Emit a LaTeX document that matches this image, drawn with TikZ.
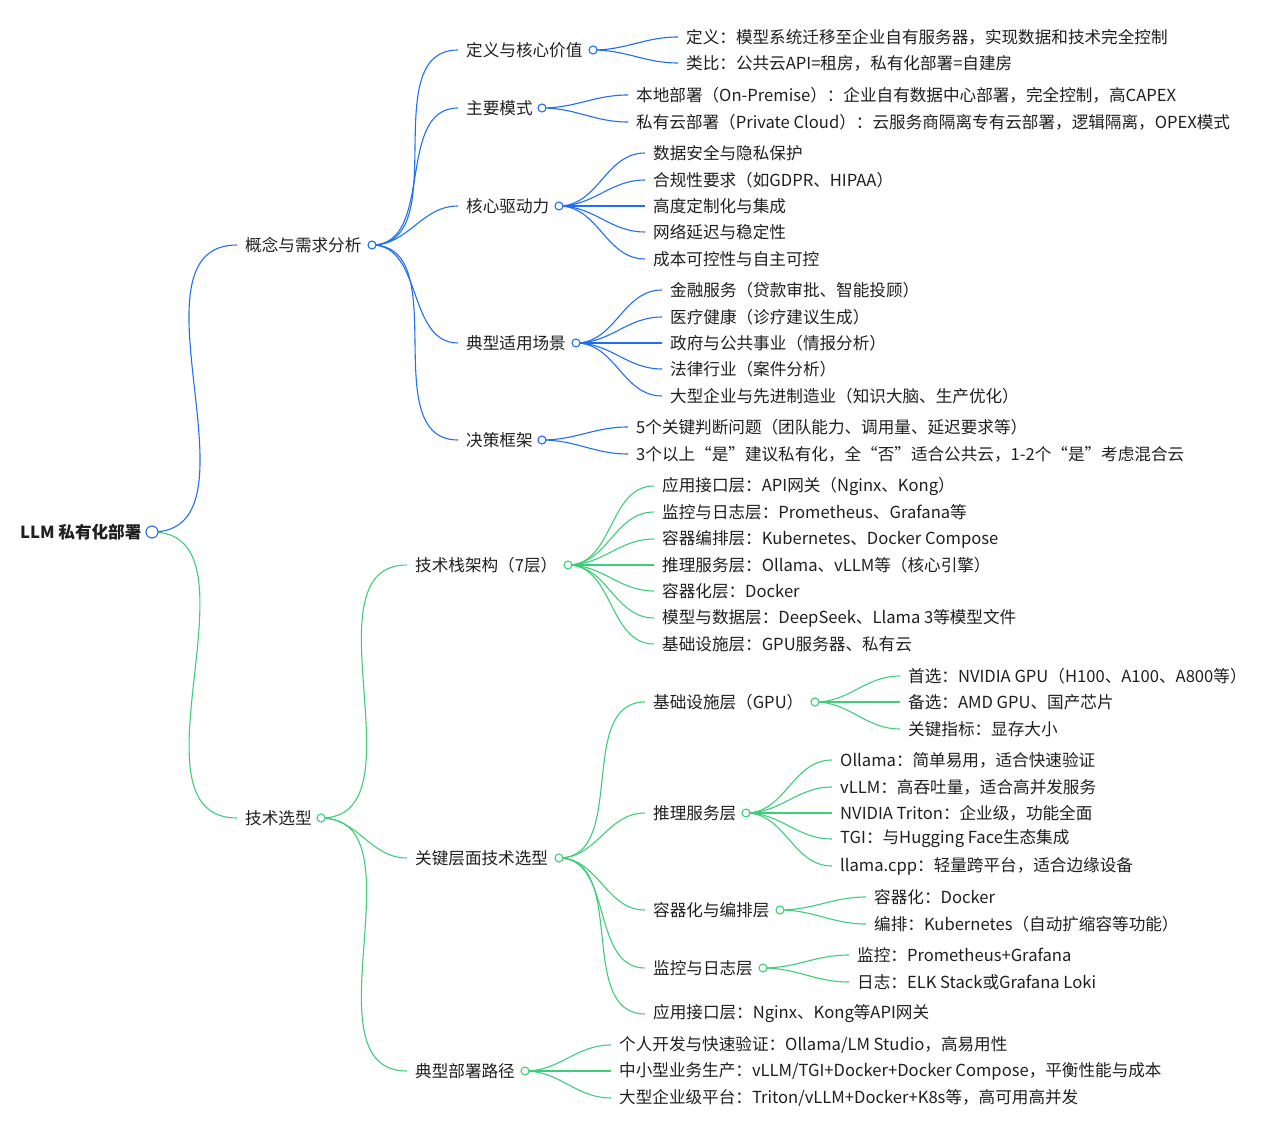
\documentclass[tikz,border=0pt]{standalone}
\usepackage{fontspec}
\setmainfont{Noto Sans CJK SC}
\definecolor{bl}{RGB}{32,110,245}
\definecolor{gr}{RGB}{62,206,122}
\tikzset{
 txt/.style={inner sep=0pt,anchor=west,font=\fontsize{16.6}{19}\selectfont,text=black!88},
 lb/.style={draw=bl,line width=1.1pt},
 lg/.style={draw=gr,line width=1.1pt},
 dotb/.style={circle,draw=bl,fill=white,line width=1.1pt,minimum size=8pt,inner sep=0pt},
 dotg/.style={circle,draw=gr,fill=white,line width=1.1pt,minimum size=8pt,inner sep=0pt},
}
\newcommand\kid[6]{%
 \node[txt] (#1) at (#2,-#3) {#4};
 \draw[#6] (#5) to[out=0,in=180] ([xshift=-8pt]#1.west);}
\begin{document}
\begin{tikzpicture}[x=1pt,y=1pt]
\useasboundingbox (0,0) rectangle (1275,-1137);
\coordinate (cR) at (152,-532);
\coordinate (cA) at (372,-245);
\coordinate (cB) at (321,-818);
\coordinate (cA1) at (593,-50);
\coordinate (cA2) at (542,-108);
\coordinate (cA3) at (559,-206);
\coordinate (cA4) at (576,-343);
\coordinate (cA5) at (542,-440);
\coordinate (cB1) at (568,-565);
\coordinate (cB2) at (559,-858);
\coordinate (cB3) at (525,-1071);
\coordinate (cC1) at (815,-702);
\coordinate (cC2) at (746,-813);
\coordinate (cC3) at (780,-910);
\coordinate (cC4) at (763,-968);

\node[txt,font=\fontsize{16.6}{19}\selectfont\bfseries] (root) at (20,-532) {LLM 私有化部署};
\kid{A}{245}{245}{概念与需求分析}{cR}{lb}
\kid{B}{245}{818}{技术选型}{cR}{lg}

\kid{A1}{466}{50}{定义与核心价值}{cA}{lb}
\kid{A2}{466}{108}{主要模式}{cA}{lb}
\kid{A3}{466}{206}{核心驱动力}{cA}{lb}
\kid{A4}{466}{343}{典型适用场景}{cA}{lb}
\kid{A5}{466}{440}{决策框架}{cA}{lb}

\kid{a11}{686}{37}{定义：模型系统迁移至企业自有服务器，实现数据和技术完全控制}{cA1}{lb}
\kid{a12}{686}{63}{类比：公共云API=租房，私有化部署=自建房}{cA1}{lb}
\kid{a21}{636}{95}{本地部署（On-Premise）：企业自有数据中心部署，完全控制，高CAPEX}{cA2}{lb}
\kid{a22}{636}{122}{私有云部署（Private Cloud）：云服务商隔离专有云部署，逻辑隔离，OPEX模式}{cA2}{lb}
\kid{a31}{653}{153}{数据安全与隐私保护}{cA3}{lb}
\kid{a32}{653}{180}{合规性要求（如GDPR、HIPAA）}{cA3}{lb}
\kid{a33}{653}{206}{高度定制化与集成}{cA3}{lb}
\kid{a34}{653}{232}{网络延迟与稳定性}{cA3}{lb}
\kid{a35}{653}{259}{成本可控性与自主可控}{cA3}{lb}
\kid{a41}{670}{290}{金融服务（贷款审批、智能投顾）}{cA4}{lb}
\kid{a42}{670}{317}{医疗健康（诊疗建议生成）}{cA4}{lb}
\kid{a43}{670}{343}{政府与公共事业（情报分析）}{cA4}{lb}
\kid{a44}{670}{369}{法律行业（案件分析）}{cA4}{lb}
\kid{a45}{670}{396}{大型企业与先进制造业（知识大脑、生产优化）}{cA4}{lb}
\kid{a51}{636}{427}{5个关键判断问题（团队能力、调用量、延迟要求等）}{cA5}{lb}
\kid{a52}{636}{454}{3个以上“是”建议私有化，全“否”适合公共云，1-2个“是”考虑混合云}{cA5}{lb}

\kid{B1}{415}{565}{技术栈架构（7层）}{cB}{lg}
\kid{B2}{415}{858}{关键层面技术选型}{cB}{lg}
\kid{B3}{415}{1071}{典型部署路径}{cB}{lg}

\kid{b11}{662}{486}{应用接口层：API网关（Nginx、Kong）}{cB1}{lg}
\kid{b12}{662}{512}{监控与日志层：Prometheus、Grafana等}{cB1}{lg}
\kid{b13}{662}{539}{容器编排层：Kubernetes、Docker Compose}{cB1}{lg}
\kid{b14}{662}{565}{推理服务层：Ollama、vLLM等（核心引擎）}{cB1}{lg}
\kid{b15}{662}{591}{容器化层：Docker}{cB1}{lg}
\kid{b16}{662}{618}{模型与数据层：DeepSeek、Llama 3等模型文件}{cB1}{lg}
\kid{b17}{662}{644}{基础设施层：GPU服务器、私有云}{cB1}{lg}

\kid{C1}{653}{702}{基础设施层（GPU）}{cB2}{lg}
\kid{C2}{653}{813}{推理服务层}{cB2}{lg}
\kid{C3}{653}{910}{容器化与编排层}{cB2}{lg}
\kid{C4}{653}{968}{监控与日志层}{cB2}{lg}
\kid{C5}{653}{1014}{应用接口层：Nginx、Kong等API网关}{cB2}{lg}

\kid{c11}{908}{676}{首选：NVIDIA GPU（H100、A100、A800等）}{cC1}{lg}
\kid{c12}{908}{702}{备选：AMD GPU、国产芯片}{cC1}{lg}
\kid{c13}{908}{729}{关键指标：显存大小}{cC1}{lg}
\kid{c21}{840}{760}{Ollama：简单易用，适合快速验证}{cC2}{lg}
\kid{c22}{840}{787}{vLLM：高吞吐量，适合高并发服务}{cC2}{lg}
\kid{c23}{840}{813}{NVIDIA Triton：企业级，功能全面}{cC2}{lg}
\kid{c24}{840}{839}{TGI：与Hugging Face生态集成}{cC2}{lg}
\kid{c25}{840}{866}{llama.cpp：轻量跨平台，适合边缘设备}{cC2}{lg}
\kid{c31}{874}{897}{容器化：Docker}{cC3}{lg}
\kid{c32}{874}{924}{编排：Kubernetes（自动扩缩容等功能）}{cC3}{lg}
\kid{c41}{857}{955}{监控：Prometheus+Grafana}{cC4}{lg}
\kid{c42}{857}{982}{日志：ELK Stack或Grafana Loki}{cC4}{lg}

\kid{b31}{619}{1045}{个人开发与快速验证：Ollama/LM Studio，高易用性}{cB3}{lg}
\kid{b32}{619}{1071}{中小型业务生产：vLLM/TGI+Docker+Docker Compose，平衡性能与成本}{cB3}{lg}
\kid{b33}{619}{1098}{大型企业级平台：Triton/vLLM+Docker+K8s等，高可用高并发}{cB3}{lg}

\node[dotb,minimum size=12pt] at (cR) {};
\foreach \c in {cA,cA1,cA2,cA3,cA4,cA5} \node[dotb] at (\c) {};
\foreach \c in {cB,cB1,cB2,cB3,cC1,cC2,cC3,cC4} \node[dotg] at (\c) {};
\end{tikzpicture}
\end{document}
